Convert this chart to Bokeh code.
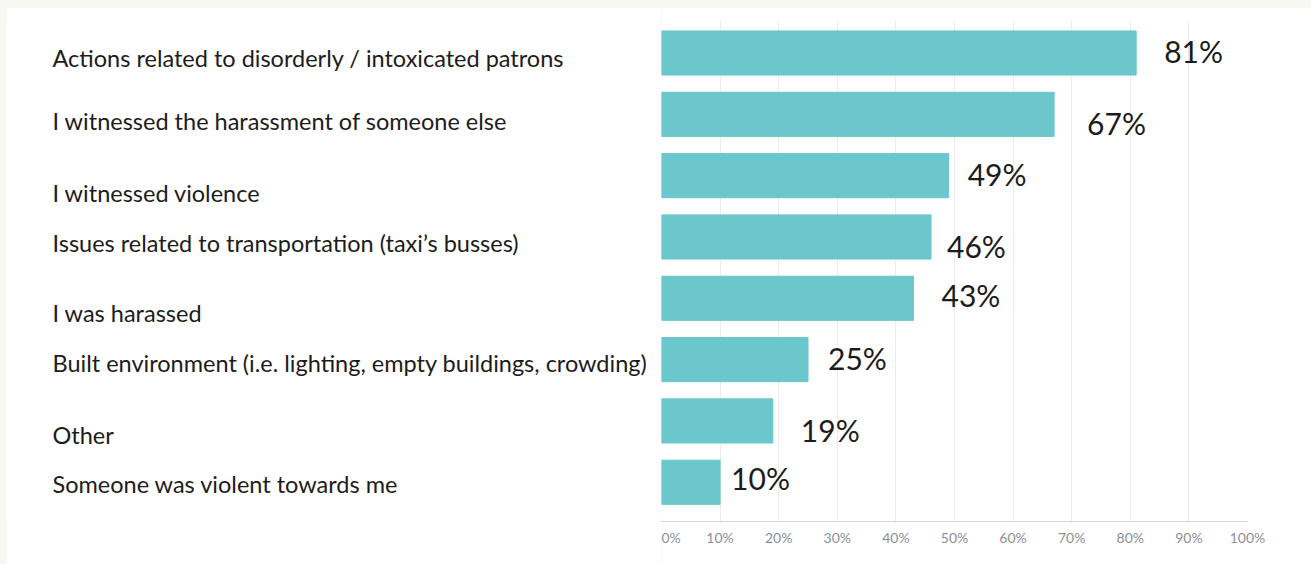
from bokeh.plotting import figure
from bokeh.layouts import row
from bokeh.models import Range1d, ColumnDataSource, FixedTicker, PrintfTickFormatter
from bokeh.core.properties import value
from bokeh.embed import file_html
from bokeh.resources import INLINE

# ---- data ----
categories = [
    "Actions related to disorderly / intoxicated patrons",
    "I witnessed the harassment of someone else",
    "I witnessed violence",
    "Issues related to transportation (taxi\u2019s busses)",
    "I was harassed",
    "Built environment (i.e. lighting, empty buildings, crowding)",
    "Other",
    "Someone was violent towards me",
]
values = [81, 67, 49, 46, 43, 25, 19, 10]
value_labels = ["81%", "67%", "49%", "46%", "43%", "25%", "19%", "10%"]
ticks = [0, 10, 20, 30, 40, 50, 60, 70, 80, 90, 100]

# ---- layout tweaks (pixels) ----
val_dx = [28, 33, 19, 16, 28, 20, 28, 11]
val_dy = [-2, 9, -2, 9, -3, -2, 9, -4]
cat_dy = [5, 7, 17, 6, 15, 3, 14, 2]

BAR = "#6bc7cb"
TXT = "#1c1c1c"
H = 557
TOP, BOTTOM = 13, 43

ypos = list(range(len(categories)))
y_range = Range1d(7.64, -0.53)

src = ColumnDataSource(dict(
    y=ypos, cat=categories, val=values, lab=value_labels,
    vdx=val_dx, vdy=val_dy, cdy=cat_dy, zero=[0] * len(values),
    cx=[46] * len(values),
))

# left label figure
left = figure(width=655, height=H, x_range=Range1d(0, 655), y_range=y_range,
              output_backend="svg", toolbar_location=None,
              x_axis_location=None, y_axis_location=None,
              min_border_left=0, min_border_right=0,
              min_border_top=TOP, min_border_bottom=BOTTOM)
left.outline_line_color = None
left.grid.visible = False
left.text(x="cx", y="y", text="cat", source=src, y_offset="cdy",
          text_font=value("Lato"), text_font_size="23.5px", text_color=TXT,
          text_align="left", text_baseline="middle")

# bar figure
p = figure(width=650, height=H, x_range=Range1d(0, 100), y_range=y_range,
           output_backend="svg", toolbar_location=None,
           y_axis_location=None,
           min_border_left=0, min_border_right=64,
           min_border_top=TOP, min_border_bottom=BOTTOM)
p.outline_line_color = None
p.hbar(y="y", left="zero", right="val", height=0.72, source=src,
       fill_color=BAR, line_color=BAR)
p.text(x="val", y="y", text="lab", source=src, x_offset="vdx", y_offset="vdy",
       text_font=value("Lato"), text_font_size="30px", text_color=TXT,
       text_align="left", text_baseline="middle")

p.xaxis.ticker = FixedTicker(ticks=ticks)
p.xaxis.formatter = PrintfTickFormatter(format="%d%%")
p.xaxis.axis_line_color = "#d6d6d6"
p.xaxis.major_tick_out = 0
p.xaxis.major_tick_in = 0
p.xaxis.major_tick_line_color = None
p.xaxis.minor_tick_line_color = None
p.xaxis.major_label_text_color = "#8b9098"
p.xaxis.major_label_text_font = "Lato"
p.xaxis.major_label_text_font_size = "14px"
p.xaxis.major_label_standoff = 7
p.xgrid.ticker = FixedTicker(ticks=ticks)
p.xgrid.grid_line_color = "#ececec"
p.ygrid.visible = False

layout = row(left, p, spacing=0)
html = file_html(layout, INLINE, title="chart")
html = html.replace(
    "<head>",
    "<head><style>html,body{background:#f8f7f3;} body{padding:7px 0 0 6px !important;}</style>",
    1,
)
open("out.html", "w").write(html)
